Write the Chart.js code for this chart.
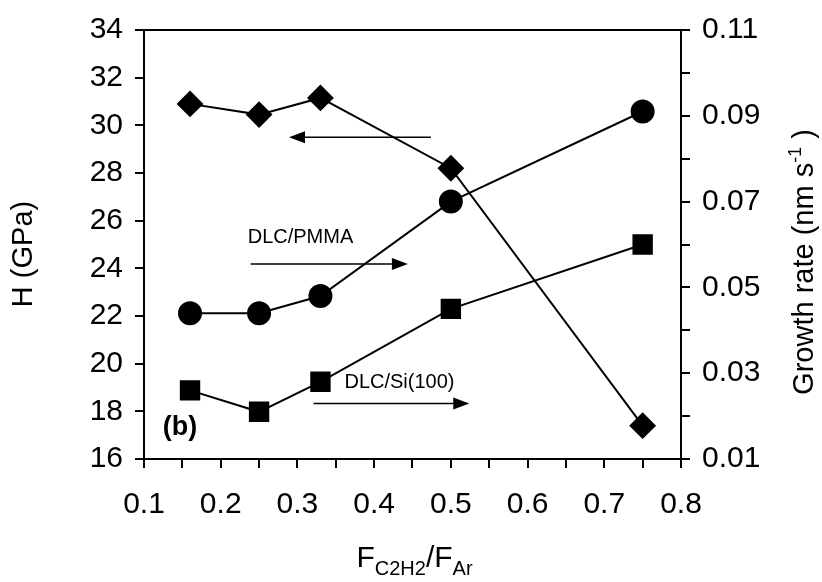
<!DOCTYPE html>
<html>
<head>
<meta charset="utf-8">
<script src="https://cdn.jsdelivr.net/npm/chart.js@4/dist/chart.umd.min.js"></script>
<style>
  body { margin: 0; background: #fff; }
  canvas { display: block; }
</style>
</head>
<body>
<canvas id="grafico" width="822" height="582"></canvas>
<script>
// datos
var ratio = [0.16, 0.25, 0.33, 0.5, 0.75];
var dureza = [30.9, 30.45, 31.15, 28.2, 17.4];
var tasaPMMA = [0.044, 0.044, 0.048, 0.070, 0.091];
var tasaSi = [0.026, 0.021, 0.028, 0.045, 0.060];

var xMin = 0.1, xMax = 0.8, xPaso = 0.05;
var hMin = 16, hMax = 34, hPaso = 2;
var gMin = 0.01, gMax = 0.11, gPaso = 0.01;

// textos y flechas (en coordenadas de datos, eje izquierdo)
var textos = [
    { txt: 'DLC/PMMA', x: 0.304, y: 25.3, bold: false, size: 20 },
    { txt: 'DLC/Si(100)', x: 0.433, y: 19.2, bold: false, size: 20 },
    { txt: '(b)', x: 0.147, y: 17.3, bold: true, size: 27 }
];
var flechas = [
    { x1: 0.474, x2: 0.289, y: 29.5 },
    { x1: 0.239, x2: 0.444, y: 24.18 },
    { x1: 0.321, x2: 0.524, y: 18.33 }
];

var fuente = "'Liberation Sans', Arial, sans-serif";

function puntos(xs, ys) {
    var r = [];
    for (var i = 0; i < xs.length; i++) {
        r.push({ x: xs[i], y: ys[i] });
    }
    return r;
}

function flecha(ctx, x1, x2, y) {
    var dir = x2 > x1 ? 1 : -1;
    var largo = 16, ancho = 6;
    ctx.beginPath();
    ctx.moveTo(x1, y);
    ctx.lineTo(x2 - dir * largo, y);
    ctx.lineWidth = 1.5;
    ctx.stroke();
    ctx.beginPath();
    ctx.moveTo(x2, y);
    ctx.lineTo(x2 - dir * largo, y - ancho);
    ctx.lineTo(x2 - dir * largo, y + ancho);
    ctx.closePath();
    ctx.fill();
}

var dibujos = {
    id: 'dibujos',
    afterDraw: function (chart) {
        var ctx = chart.ctx;
        var a = chart.chartArea;
        var sx = chart.scales.x, sy = chart.scales.y;
        ctx.save();
        ctx.strokeStyle = '#000';
        ctx.fillStyle = '#000';

        // borde superior
        ctx.beginPath();
        ctx.moveTo(a.left - 1, a.top);
        ctx.lineTo(a.right + 1, a.top);
        ctx.lineWidth = 2;
        ctx.stroke();

        // anotaciones
        ctx.textAlign = 'center';
        ctx.textBaseline = 'middle';
        textos.forEach(function (t) {
            ctx.font = (t.bold ? 'bold ' : '') + t.size + 'px ' + fuente;
            ctx.fillText(t.txt, sx.getPixelForValue(t.x), sy.getPixelForValue(t.y));
        });
        flechas.forEach(function (f) {
            flecha(ctx, sx.getPixelForValue(f.x1), sx.getPixelForValue(f.x2), sy.getPixelForValue(f.y));
        });

        // titulo eje izquierdo
        ctx.save();
        ctx.translate(24, 254);
        ctx.rotate(-Math.PI / 2);
        ctx.font = '29px ' + fuente;
        ctx.fillText('H (GPa)', 0, 0);
        ctx.restore();

        // titulo eje derecho con superindice
        ctx.save();
        ctx.translate(803, 262);
        ctx.rotate(-Math.PI / 2);
        ctx.textAlign = 'left';
        ctx.textBaseline = 'alphabetic';
        var f1 = '29px ' + fuente, f2 = '18px ' + fuente;
        var p1 = 'Growth rate (nm s', p2 = '-1', p3 = ' )';
        ctx.font = f1;
        var w1 = ctx.measureText(p1).width, w3 = ctx.measureText(p3).width;
        ctx.font = f2;
        var w2 = ctx.measureText(p2).width;
        var x0 = -(w1 + w2 + w3) / 2;
        ctx.font = f1;
        ctx.fillText(p1, x0, 10);
        ctx.font = f2;
        ctx.fillText(p2, x0 + w1, -2);
        ctx.font = f1;
        ctx.fillText(p3, x0 + w1 + w2, 10);
        ctx.restore();

        // titulo eje x con subindices
        var partes = [
            { t: 'F', f: '30px ' + fuente, dy: 0 },
            { t: 'C2H2', f: '20px ' + fuente, dy: 8 },
            { t: '/F', f: '30px ' + fuente, dy: 0 },
            { t: 'Ar', f: '20px ' + fuente, dy: 8 }
        ];
        ctx.textAlign = 'left';
        ctx.textBaseline = 'alphabetic';
        var total = 0;
        partes.forEach(function (p) { ctx.font = p.f; p.w = ctx.measureText(p.t).width; total += p.w; });
        var px = (a.left + a.right) / 2 - total / 2 + 2;
        partes.forEach(function (p) {
            ctx.font = p.f;
            ctx.fillText(p.t, px, 567 + p.dy);
            px += p.w;
        });
        ctx.restore();
    }
};

var ejeGrid = { drawOnChartArea: false, drawTicks: true, tickLength: 9, color: '#000', lineWidth: 2 };

var ctx = document.getElementById('grafico').getContext('2d');
var chart = new Chart(ctx, {
    type: 'line',
    data: {
        datasets: [{
            label: 'H',
            data: puntos(ratio, dureza),
            yAxisID: 'y',
            pointStyle: 'rectRot',
            pointRadius: 12,
            borderColor: '#000',
            backgroundColor: '#000',
            borderWidth: 2
        }, {
            label: 'DLC/PMMA',
            data: puntos(ratio, tasaPMMA),
            yAxisID: 'y1',
            pointStyle: 'circle',
            pointRadius: 11,
            borderColor: '#000',
            backgroundColor: '#000',
            borderWidth: 2
        }, {
            label: 'DLC/Si(100)',
            data: puntos(ratio, tasaSi),
            yAxisID: 'y1',
            pointStyle: 'rect',
            pointRadius: 13,
            borderColor: '#000',
            backgroundColor: '#000',
            borderWidth: 2
        }]
    },
    options: {
        responsive: false,
        animation: false,
        layout: { padding: { top: 27, left: 0, right: 0, bottom: 0 } },
        plugins: { legend: { display: false }, tooltip: { enabled: false } },
        elements: { line: { tension: 0 } },
        scales: {
            x: {
                type: 'linear',
                min: xMin, max: xMax,
                grid: ejeGrid,
                border: { color: '#000', width: 2 },
                ticks: {
                    stepSize: xPaso, autoSkip: false, maxRotation: 0, padding: 19,
                    color: '#000', font: { family: fuente, size: 30 },
                    callback: function (v, i) { return i % 2 === 0 ? Number(v).toFixed(1) : ''; }
                },
                afterFit: function (s) { s.height = 582 - 459; }
            },
            y: {
                position: 'left',
                min: hMin, max: hMax,
                grid: ejeGrid,
                border: { color: '#000', width: 2 },
                ticks: {
                    stepSize: hPaso, autoSkip: false, padding: 12,
                    color: '#000', font: { family: fuente, size: 30 }
                },
                afterFit: function (s) { s.width = 144; }
            },
            y1: {
                position: 'right',
                min: gMin, max: gMax,
                grid: ejeGrid,
                border: { color: '#000', width: 2 },
                ticks: {
                    stepSize: gPaso, autoSkip: false, padding: 12,
                    color: '#000', font: { family: fuente, size: 30 },
                    callback: function (v, i) { return i % 2 === 0 ? Number(v).toFixed(2) : ''; }
                },
                afterFit: function (s) { s.width = 822 - 681; }
            }
        }
    },
    plugins: [dibujos]
});
</script>
</body>
</html>
